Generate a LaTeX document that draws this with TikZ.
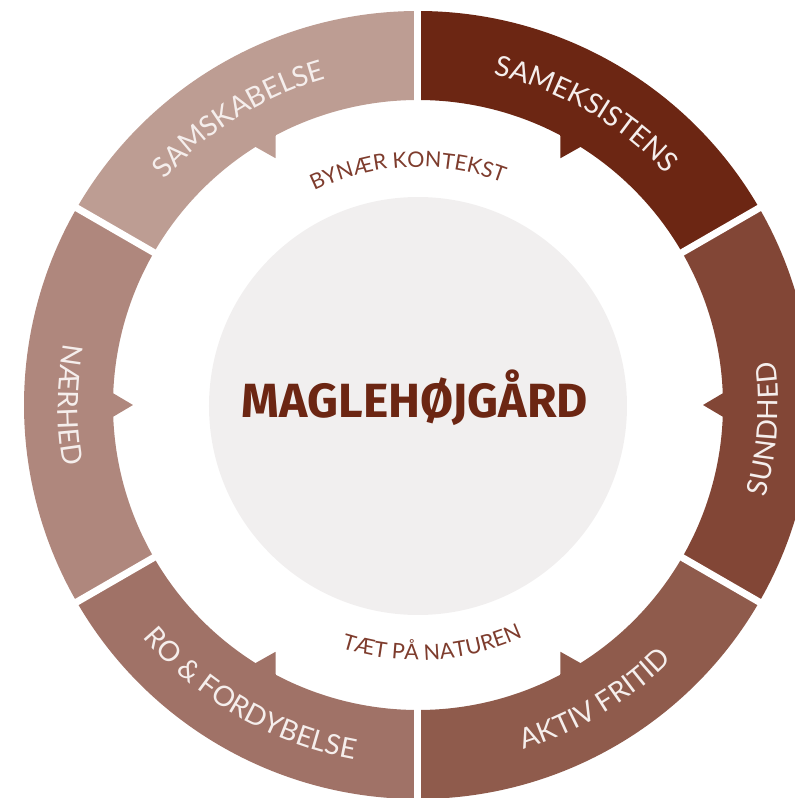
\documentclass[tikz,border=0pt]{standalone}
\usepackage{fontspec}
\setmainfont{Fira Sans}
\newfontfamily\ringfont{Lato}
\usepackage{xcolor}
\usetikzlibrary{decorations.text}

\definecolor{segSameks}{HTML}{6C2613}
\definecolor{segSund}{HTML}{824636}
\definecolor{segAktiv}{HTML}{8F5B4C}
\definecolor{segRo}{HTML}{A07267}
\definecolor{segNaer}{HTML}{AF877D}
\definecolor{segSamsk}{HTML}{BD9D93}
\definecolor{ringtxt}{HTML}{F5EEEC}
\definecolor{innertxt}{HTML}{7E3C2D}
\definecolor{hubfill}{HTML}{F1EFEF}

\begin{document}
\begin{tikzpicture}%
        [x=1pt, y=1pt,
        sep/.style={draw=white, line width=7pt},
        ringlabel/.style={decorate, decoration={text along path, text align=center,
            text color=ringtxt, text={|\ringfont\fontsize{28}{28}\selectfont|#1}}},
        innerlabel/.style={decorate, decoration={text along path, text align=center,
            text color=innertxt, text={|\ringfont\fontsize{21.5}{21.5}\selectfont|#1}}}]
    \useasboundingbox (-418,-393) rectangle (377,405);
    \clip (-418,-393) rectangle (377,405);
    %% Ring segments
    \fill[segSameks] (30:305) arc[start angle=30, end angle=90, radius=305] -- (90:394) arc[start angle=90, end angle=30, radius=394] -- cycle;
    \fill[segSund] (-30:305) arc[start angle=-30, end angle=30, radius=305] -- (30:394) arc[start angle=30, end angle=-30, radius=394] -- cycle;
    \fill[segAktiv] (-90:305) arc[start angle=-90, end angle=-30, radius=305] -- (-30:394) arc[start angle=-30, end angle=-90, radius=394] -- cycle;
    \fill[segRo] (210:305) arc[start angle=210, end angle=270, radius=305] -- (270:394) arc[start angle=270, end angle=210, radius=394] -- cycle;
    \fill[segNaer] (150:305) arc[start angle=150, end angle=210, radius=305] -- (210:394) arc[start angle=210, end angle=150, radius=394] -- cycle;
    \fill[segSamsk] (90:305) arc[start angle=90, end angle=150, radius=305] -- (150:394) arc[start angle=150, end angle=90, radius=394] -- cycle;
    %% Teeth pointing to the hub
    \fill[segSameks] (57.7:306) -- (60:285) -- (62.3:306) -- cycle;
    \fill[segSund] (-2.3:306) -- (0:285) -- (2.3:306) -- cycle;
    \fill[segAktiv] (-62.3:306) -- (-60:285) -- (-57.7:306) -- cycle;
    \fill[segRo] (237.7:306) -- (240:285) -- (242.3:306) -- cycle;
    \fill[segNaer] (177.7:306) -- (180:285) -- (182.3:306) -- cycle;
    \fill[segSamsk] (117.7:306) -- (120:285) -- (122.3:306) -- cycle;
    %% Gaps between segments
    \draw[sep] (30:300) -- (30:420);
    \draw[sep] (90:300) -- (90:420);
    \draw[sep] (150:300) -- (150:420);
    \draw[sep] (210:300) -- (210:420);
    \draw[sep] (270:300) -- (270:420);
    \draw[sep] (-30:300) -- (-30:420);
    %% Segment labels
    \path[ringlabel={SAMEKSISTENS}] (90:339) arc[start angle=90, end angle=30, radius=339];
    \path[ringlabel={SAMSKABELSE}] (152:339) arc[start angle=152, end angle=92, radius=339];
    \path[ringlabel={SUNDHED}] (-34:360) arc[start angle=-34, end angle=26, radius=360];
    \path[ringlabel={AKTIV FRITID}] (-89:360) arc[start angle=-89, end angle=-29, radius=360];
    \path[ringlabel={RO {\&} FORDYBELSE}] (210:360) arc[start angle=210, end angle=270, radius=360];
    \path[ringlabel={NÆRHED}] (150:360) arc[start angle=150, end angle=210, radius=360];
    %% Hub
    \fill[hubfill] (0,-1) circle[radius=209];
    \node[anchor=base, text=segSameks, font=\bfseries\fontsize{48}{48}\selectfont] (hub) at (-3,-12) {MAGLEHØJGÅRD};
    \path[innerlabel={BYNÆR KONTEKST}] (122.5:238) arc[start angle=122.5, end angle=62.5, radius=238];
    \path[innerlabel={TÆT PÅ NATUREN}] (-116.6:255) arc[start angle=-116.6, end angle=-56.6, radius=255];
\end{tikzpicture}
\end{document}
